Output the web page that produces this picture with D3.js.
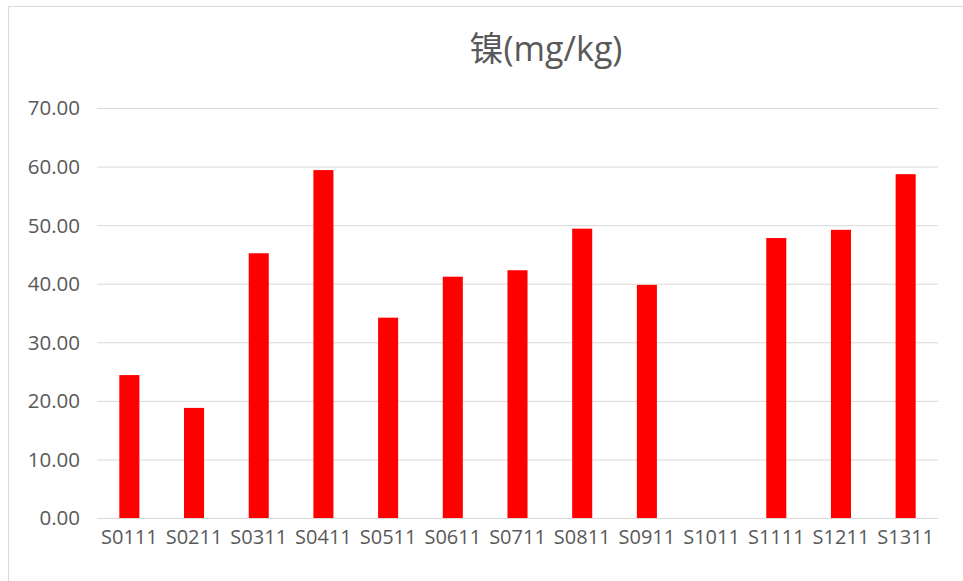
<!DOCTYPE html>
<html>
<head>
<meta charset="utf-8">
<script src="https://cdn.jsdelivr.net/npm/d3@7"></script>
<style>
  html, body { margin: 0; padding: 0; background: #fff; }
  svg { display: block; }
  text { font-family: "Open Sans", "Noto Sans CJK SC", sans-serif; fill: #595959; }
</style>
</head>
<body>
<svg id="chart" width="963" height="581"></svg>
<script>
const title = "镍(mg/kg)";
const categories = ["S0111","S0211","S0311","S0411","S0511","S0611","S0711","S0811","S0911","S1011","S1111","S1211","S1311"];
const values = [24.4, 18.8, 45.2, 59.4, 34.2, 41.2, 42.3, 49.4, 39.8, 0, 47.8, 49.2, 58.7];
const yTicks = [0, 10, 20, 30, 40, 50, 60, 70];

const svg = d3.select("#chart");
const W = 963, H = 581;
const m = { left: 97, right: 25, top: 108, bottom: 63 };

// outer frame
svg.append("rect").attr("x", 8.5).attr("y", 6.5).attr("width", W).attr("height", H)
  .attr("fill", "none").attr("stroke", "#d9d9d9").attr("stroke-width", 1);

const x = d3.scaleBand().domain(categories).range([m.left, W - m.right]).paddingInner(0.69).paddingOuter(0.345);
const y = d3.scaleLinear().domain([0, 70]).range([H - m.bottom, m.top]);

// gridlines
const yAxis = d3.axisLeft(y).tickValues(yTicks).tickFormat(d3.format(".2f"))
  .tickSize(-(W - m.right - m.left)).tickPadding(17);
const gy = svg.append("g").attr("transform", `translate(${m.left},0)`).call(yAxis);
gy.select(".domain").remove();
gy.selectAll(".tick line").attr("stroke", "#d9d9d9").attr("stroke-width", 1);
gy.selectAll(".tick text").attr("font-size", 20.5).attr("fill", "#595959").attr("dy", "0.34em");

// bars
svg.append("g").selectAll("rect").data(values).join("rect")
  .attr("x", (d, i) => x(categories[i]))
  .attr("y", d => y(d))
  .attr("width", x.bandwidth())
  .attr("height", d => y(0) - y(d))
  .attr("fill", "#ff0000");

// x axis
const xAxis = d3.axisBottom(x).tickSize(0).tickPadding(12);
const gx = svg.append("g").attr("transform", `translate(0,${H - m.bottom})`).call(xAxis);
gx.select(".domain").attr("stroke", "#d9d9d9").attr("d", `M${m.left},0.5H${W - m.right}`);
gx.selectAll(".tick text").attr("font-size", 20).attr("fill", "#595959").attr("dy", "0.71em");

// title
svg.append("text").attr("x", 546).attr("y", 61).attr("text-anchor", "middle")
  .attr("font-size", 34).attr("fill", "#595959").text(title);
</script>
</body>
</html>
